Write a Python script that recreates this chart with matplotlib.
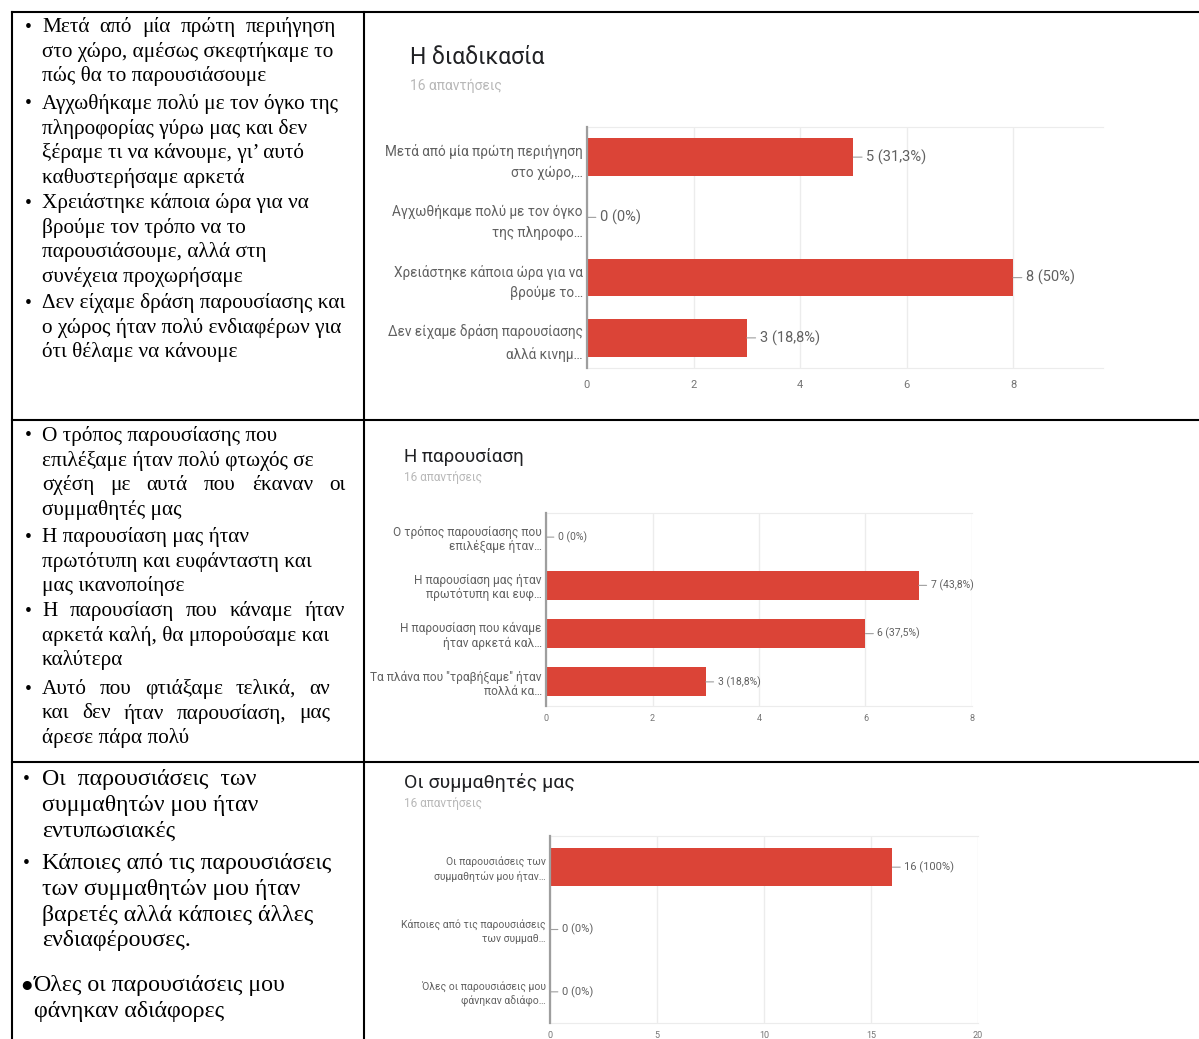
import numpy as np
import matplotlib.pyplot as plt
from decimal import Decimal, ROUND_HALF_UP

W, H = 1199, 1039
SERIF = ["Liberation Serif", "DejaVu Serif"]
SANS = "Roboto"
RED = "#db4437"

RESPONSES = 16

# chart 1: "Η διαδικασία"
process_labels = [
    "Μετά από μία πρώτη περιήγηση\nστο χώρο,…",
    "Αγχωθήκαμε πολύ με τον όγκο\nτης πληροφο…",
    "Χρειάστηκε κάποια ώρα για να\nβρούμε το…",
    "Δεν είχαμε δράση παρουσίασης\nαλλά κινημ…",
]
process_counts = [5, 0, 8, 3]

# chart 2: "Η παρουσίαση"
presentation_labels = [
    "Ο τρόπος παρουσίασης που\nεπιλέξαμε ήταν…",
    "Η παρουσίαση μας ήταν\nπρωτότυπη και ευφ…",
    "Η παρουσίαση που κάναμε\nήταν αρκετά καλ…",
    "Τα πλάνα που \"τραβήξαμε\" ήταν\nπολλά κα…",
]
presentation_counts = [0, 7, 6, 3]

# chart 3: "Οι συμμαθητές μας"
classmates_labels = [
    "Οι παρουσιάσεις των\nσυμμαθητών μου ήταν…",
    "Κάποιες από τις παρουσιάσεις\nτων συμμαθ…",
    "Όλες οι παρουσιάσεις μου\nφάνηκαν αδιάφο…",
]
classmates_counts = [16, 0, 0]

# left column text: paragraphs of (line, justify-to-right-edge or None)
row1_text = [
    [("Μετά από μία πρώτη περιήγηση", 336), ("στο χώρο, αμέσως σκεφτήκαμε το", None),
     ("πώς θα το παρουσιάσουμε", None)],
    [("Αγχωθήκαμε πολύ με τον όγκο της", None), ("πληροφορίας γύρω μας και δεν", None),
     ("ξέραμε τι να κάνουμε, γι’ αυτό", None), ("καθυστερήσαμε αρκετά", None)],
    [("Χρειάστηκε κάποια ώρα για να", None), ("βρούμε τον τρόπο να το", None),
     ("παρουσιάσουμε, αλλά στη", None), ("συνέχεια προχωρήσαμε", None)],
    [("Δεν είχαμε δράση παρουσίασης και", None), ("ο χώρος ήταν πολύ ενδιαφέρων για", None),
     ("ότι θέλαμε να κάνουμε", None)],
]
row2_text = [
    [("Ο τρόπος παρουσίασης που", None), ("επιλέξαμε ήταν πολύ φτωχός σε", None),
     ("σχέση με αυτά που έκαναν οι", 345), ("συμμαθητές μας", None)],
    [("Η παρουσίαση μας ήταν", None), ("πρωτότυπη και ευφάνταστη και", None),
     ("μας ικανοποίησε", None)],
    [("Η παρουσίαση που κάναμε ήταν", 345), ("αρκετά καλή, θα μπορούσαμε και", None),
     ("καλύτερα", None)],
    [("Αυτό που φτιάξαμε τελικά, αν", 330), ("και δεν ήταν παρουσίαση, μας", 330),
     ("άρεσε πάρα πολύ", None)],
]
row3_text = [
    [("Οι  παρουσιάσεις  των", None), ("συμμαθητών μου ήταν", None), ("εντυπωσιακές", None)],
    [("Κάποιες από τις παρουσιάσεις", None), ("των συμμαθητών μου ήταν", None),
     ("βαρετές αλλά κάποιες άλλες", None), ("ενδιαφέρουσες.", None)],
    [("Όλες οι παρουσιάσεις μου", None), ("φάνηκαν αδιάφορες", None)],
]


def pct(c):
    v = (Decimal(c * 100) / Decimal(RESPONSES)).quantize(Decimal("0.1"), ROUND_HALF_UP)
    s = f"{v}".rstrip("0").rstrip(".")
    return s.replace(".", ",") + "%"


fig = plt.figure(figsize=(W / 100, H / 100), dpi=100)
base = fig.add_axes([0, 0, 1, 1])
base.set_xlim(0, W)
base.set_ylim(H, 0)
base.axis("off")
renderer = fig.canvas.get_renderer()

# table lines
lw = 1.5
base.plot([12, W], [12, 12], color="black", lw=lw)
base.plot([12, 12], [12, H], color="black", lw=lw)
base.plot([364, 364], [12, H], color="black", lw=lw)
base.plot([12, W], [420, 420], color="black", lw=lw)
base.plot([12, W], [762, 762], color="black", lw=lw)


def put_line(x0, y, text, size, right):
    if right is None:
        base.text(x0, y, text, fontsize=size, family=SERIF, va="center", ha="left")
        return
    words = text.split()
    widths = []
    for w in words:
        t = base.text(0, 0, w, fontsize=size, family=SERIF)
        widths.append(t.get_window_extent(renderer=renderer).width)
        t.remove()
    gap = (right - x0 - sum(widths)) / (len(words) - 1)
    x = x0
    for w, wd in zip(words, widths):
        base.text(x, y, w, fontsize=size, family=SERIF, va="center", ha="left")
        x += wd + gap


def put_paragraphs(paras, starts, step, size, bullets):
    for para, y0, (bx, bch, bsize, tx) in zip(paras, starts, bullets):
        base.text(bx, y0, bch, fontsize=bsize, family=SERIF, va="center", ha="left")
        for k, (line, right) in enumerate(para):
            put_line(tx, y0 + k * step, line, size, right)


small_b = (25, "•", 14, 42)
put_paragraphs(row1_text, [27, 104, 203, 303], 24.7, 15.3, [small_b] * 4)
put_paragraphs(row2_text, [436, 537, 611, 689], 24.6, 15.3, [small_b] * 4)
put_paragraphs(row3_text, [780, 864, 986], 25.5, 17.2,
               [(23, "•", 14, 42), (23, "•", 14, 42), (20, "●", 15, 34)])


def bar_panel(box, labels, counts, xmax, ticks, bar_h, title, tpos, tsize, ssize,
              lab_size, lab_space, val_size, tick_size, tick_pad, stem):
    left, top, right, bottom = box
    ax = fig.add_axes([left / W, 1 - bottom / H, (right - left) / W, (bottom - top) / H])
    y = np.arange(len(counts))
    ax.barh(y, counts, height=bar_h, color=RED, zorder=3)
    ax.set_xlim(0, xmax)
    ax.set_ylim(len(counts) - 0.5, -0.5)
    ax.set_xticks(ticks)
    ax.set_yticks(y, labels)
    ax.tick_params(axis="x", length=0, pad=tick_pad, labelsize=tick_size, labelcolor="#757575")
    ax.tick_params(axis="y", length=0, pad=3, labelsize=lab_size, labelcolor="#616161")
    for t in ax.get_yticklabels():
        t.set_family(SANS)
        t.set_linespacing(lab_space)
        t.set_ha("right")
    for t in ax.get_xticklabels():
        t.set_family(SANS)
    ax.grid(axis="x", color="#ececec", lw=1, zorder=0)
    for s in ["top", "bottom"]:
        ax.spines[s].set_color("#ececec")
    ax.spines["right"].set_visible(False)
    ax.spines["left"].set_color("#9e9e9e")
    ax.spines["left"].set_linewidth(1.6)
    ax.spines["left"].set_zorder(4)
    for yi, c in zip(y, counts):
        ax.annotate(f"{c} ({pct(c)})", xy=(c, yi), xytext=(stem, 0),
                    textcoords="offset pixels", va="center", ha="left",
                    fontsize=val_size, family=SANS, color="#616161",
                    arrowprops=dict(arrowstyle="-", color="#9e9e9e", lw=0.8,
                                    shrinkA=1, shrinkB=0))
    tx, ty, sy = tpos
    base.text(tx, ty, title, fontsize=tsize, family=SANS, color="#202124",
              va="center", ha="left")
    base.text(tx, sy, f"{RESPONSES} απαντήσεις", fontsize=ssize, family=SANS,
              color="#b8b8b8", va="center", ha="left")
    return ax


bar_panel((587, 127, 1103, 368), process_labels, process_counts, 9.69, [0, 2, 4, 6, 8],
          0.62, "Η διαδικασία", (410, 58, 86), 16.5, 10, 9.8, 1.6, 10.5, 8, 9, 13)
bar_panel((546, 513, 972, 706), presentation_labels, presentation_counts, 8,
          [0, 2, 4, 6, 8], 0.6, "Η παρουσίαση", (404, 457, 478), 13.5, 8.5, 8.6, 1.15,
          7.5, 6.5, 6, 12)
bar_panel((550, 836, 978, 1023), classmates_labels, classmates_counts, 20,
          [0, 5, 10, 15, 20], 0.6, "Οι συμμαθητές μας", (404, 782, 803), 14, 8.5, 7.5,
          1.35, 8, 6.5, 6, 12)

fig.savefig("out.png", dpi=100)
